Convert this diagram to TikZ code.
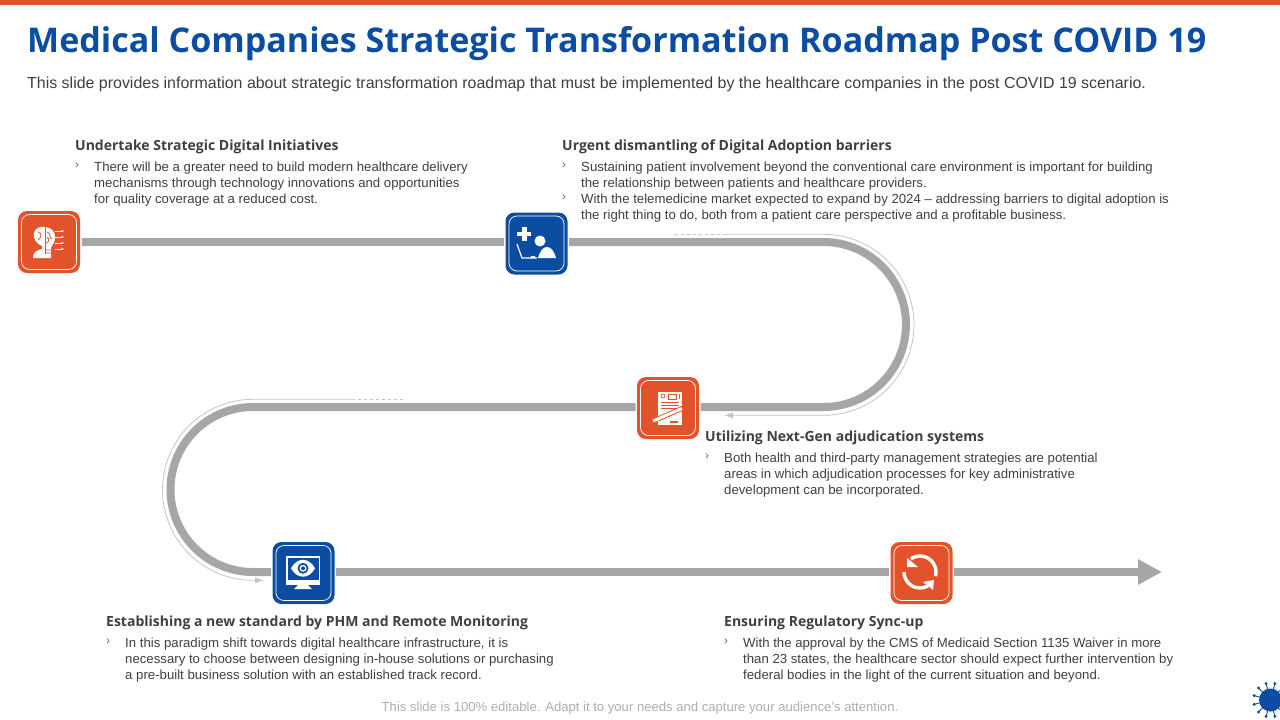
\documentclass[tikz,border=0pt]{standalone}
\usepackage{fontspec}
\setmainfont{Liberation Sans}
\newfontfamily\headfont{Open Sans}
\usetikzlibrary{arrows.meta}
\definecolor{orangered}{HTML}{E2532B}
\definecolor{deepblue}{HTML}{0B4DA2}
\definecolor{trackgray}{HTML}{A6A6A6}
\definecolor{thingray}{HTML}{C4C4C4}
\definecolor{bodygray}{HTML}{3F3F3F}
\tikzstyle{stepbox} = [draw=none,rectangle,rounded corners=9pt,minimum size=62pt,inner sep=0pt,outer sep=1.5pt]
\tikzstyle{frame} = [draw=white,line width=0.7pt,rounded corners=8pt,fill=none]
\tikzstyle{track} = [draw=trackgray,line width=8pt]
\tikzstyle{thin} = [draw=thingray,line width=0.8pt]
\tikzstyle{heading} = [anchor=west,inner sep=0pt,font=\headfont\bfseries\fontsize{14}{17}\selectfont,text=bodygray]
\tikzstyle{body} = [anchor=north west,inner sep=0pt,align=left,font=\fontsize{13.2}{16}\selectfont,text=bodygray]
\tikzstyle{bullet} = [anchor=north west,inner sep=0pt,font=\fontsize{12}{16}\selectfont,text=bodygray!80]
\tikzstyle{icon} = [fill=white,draw=none]
\begin{document}
\begin{tikzpicture}[x=1pt,y=-1pt]
    \useasboundingbox (0,0) rectangle (1280,720);
    \fill[orangered] (0,0) rectangle (1280,5);

    \node[anchor=west,inner sep=0pt,text=deepblue,font=\headfont\bfseries\fontsize{34.05}{40}\selectfont] (title) at (27,43.5) {Medical Companies Strategic Transformation Roadmap Post COVID 19};
    \node[anchor=west,inner sep=0pt,text=bodygray,font=\fontsize{15.95}{18}\selectfont] (sub) at (27,84) {This slide provides information about strategic transformation roadmap that must be implemented by the healthcare companies in the post COVID 19 scenario.};

    % the five steps along the road
    \node[stepbox,fill=orangered] (s1) at (49,242) {};
    \node[stepbox,fill=deepblue] (s2) at (536.5,243.5) {};
    \node[stepbox,fill=orangered] (s3) at (668,408) {};
    \node[stepbox,fill=deepblue] (s4) at (303.5,573) {};
    \node[stepbox,fill=orangered] (s5) at (921.5,573) {};
    \coordinate (tip) at (1162,572);

    % now link the nodes
    \draw[track] (s1.east |- 0,242) -- (s2.west |- 0,242);
    \draw[track] (s2.east |- 0,242) -- (823.5,242) arc[start angle=-90,end angle=90,radius=82.5] -- (s3.east |- 0,407);
    \draw[track] (s3.west |- 0,407) -- (253,407) arc[start angle=-90,end angle=-270,radius=82.5] -- (s4.west |- 0,572);
    \draw[track] (s4.east |- 0,572) -- (s5.west |- 0,572);
    \draw[track,-{Triangle[length=24pt,width=24pt]}] (s5.east |- 0,572) -- (tip);

    % thin guides beside the bends
    \draw[thin,dash pattern=on 3pt off 3pt] (675,234.3) -- (725,234.3);
    \draw[thin,-{Latex[length=9pt,width=6pt]}] (725,234.3) -- (823.5,234.3) arc[start angle=-90,end angle=90,radius=90.5] -- (724,415.3);
    \draw[thin,dash pattern=on 3pt off 3pt] (403,399.3) -- (353,399.3);
    \draw[thin,-{Latex[length=9pt,width=6pt]}] (353,399.3) -- (253,399.3) arc[start angle=-90,end angle=-270,radius=90.5] -- (264,580.3);

    % white inner frames
    \foreach \s in {s1,s2,s3,s4,s5} {
      \draw[frame] ([shift={(-27.5,-27.5)}]\s.center) rectangle ([shift={(27.5,27.5)}]\s.center);
    }

    % icon 1: head and bulb
    \fill[icon] (33,258) .. controls (33,252) and (37,250) .. (42,249) -- (42,246) .. controls (36,244) and (33,238) .. (34,233) .. controls (35,228) and (40,226) .. (45,227) .. controls (51,227) and (56,232) .. (55,238) .. controls (55,242) and (52,245) .. (51,248) -- (51,258) -- cycle;
    \draw[orangered,line width=0.8pt] (45,227) -- (45,254);
    \draw[orangered,line width=0.8pt] (47,232) .. controls (52,233) and (48,237) .. (52,239) (46,243) .. controls (50,242) and (49,238) .. (47,237) (38,232) .. controls (42,233) and (42,237) .. (38,240) (46,250) -- (51,250) (46,253) -- (51,253);
    \foreach \y in {231,237,243,249} {
      \draw[white,line width=0.8pt,-{Latex[length=2.5pt,width=2.5pt]}] (55,\y) -- (64,\y);
    }

    % icon 2: plus and person
    \fill[icon] (522,227) rectangle (526.5,241);
    \fill[icon] (517,231.8) rectangle (531,236.3);
    \fill[icon] (540,241) circle[radius=5.5];
    \fill[icon] (538,258) .. controls (540,251) and (543,247) .. (547,247) .. controls (551,247) and (554,251) .. (556,258) -- cycle;
    \draw[white,line width=1.2pt] (517,244) -- (522,258) -- (537,258);
    \fill[icon] (530,258) .. controls (531,255) and (535,255) .. (536,258) -- cycle;

    % icon 3: sheet and pen
    \fill[icon] (658,392) rectangle (682,425);
    \draw[orangered,line width=0.7pt] (663,396) circle[radius=2];
    \draw[orangered,line width=0.7pt] (668,394) rectangle (676,399);
    \fill[orangered] (678.5,394) rectangle (680,399);
    \draw[orangered,line width=0.7pt] (661,402) -- (679,402) (661,405) -- (679,405) (661,408) -- (676,408);
    \draw[orangered,line width=5pt] (658,419) -- (683,408);
    \draw[white,line width=3pt] (653,421) -- (682,408.5);
    \fill[orangered] (670,421) rectangle (678,423);

    % icon 4: monitor and eye
    \fill[icon] (286,556) rectangle (320,585);
    \fill[deepblue] (287.5,557.5) rectangle (318.5,580);
    \fill[icon] (298,585) -- (308,585) -- (312,589) -- (294,589) -- cycle;
    \fill[icon] (291,568.3) .. controls (297,557) and (309,557) .. (315,568.3) .. controls (309,579.5) and (297,579.5) .. (291,568.3) -- cycle;
    \fill[deepblue] (303,568.3) circle[radius=5.5];
    \fill[white] (303,568.3) circle[radius=3.5];
    \fill[deepblue] (303,568.3) circle[radius=2];

    % icon 5: two turning arrows
    \draw[white,line width=3.4pt] (910.8,558.9) arc[start angle=-125,end angle=15,radius=16];
    \draw[white,line width=3.4pt] (904,572) arc[start angle=180,end angle=60,radius=16];
    \fill[icon] (907,558) -- (907,567) -- (918,567) -- cycle;
    \fill[icon] (923,582) -- (934,580) -- (933,590) -- cycle;

    % virus at the corner
    \fill[deepblue] (1270.5,700) circle[radius=11.5];
    \foreach \a in {15,45,...,345} {
      \draw[deepblue,line width=0.9pt] (1270.5,700) -- ++(\a:17);
      \fill[deepblue] (1270.5,700) ++(\a:17) circle[radius=1.6];
    }

    % texts
    \node[heading] (h1) at (75,147) {Undertake Strategic Digital Initiatives};
    \node[bullet] (b1) at (75,163) {›};
    \node[body] (t1) at (94,161.5) {There will be a greater need to build modern healthcare delivery\\mechanisms through technology innovations and opportunities\\for quality coverage at a reduced cost.};

    \node[heading] (h2) at (562,147) {Urgent dismantling of Digital Adoption barriers};
    \node[bullet] (b2) at (562,163) {›};
    \node[bullet] (b2a) at (562,195) {›};
    \node[body] (t2) at (581,161.5) {Sustaining patient involvement beyond the conventional care environment is important for building\\the relationship between patients and healthcare providers.\\With the telemedicine market expected to expand by 2024 – addressing barriers to digital adoption is\\the right thing to do, both from a patient care perspective and a profitable business.};

    \node[heading] (h3) at (705,438) {Utilizing Next-Gen adjudication systems};
    \node[bullet] (b3) at (705,454) {›};
    \node[body] (t3) at (724,452.5) {Both health and third-party management strategies are potential\\areas in which adjudication processes for key administrative\\development can be incorporated.};

    \node[heading] (h4) at (106,623) {Establishing a new standard by PHM and Remote Monitoring};
    \node[bullet] (b4) at (106,639) {›};
    \node[body] (t4) at (125,637.5) {In this paradigm shift towards digital healthcare infrastructure, it is\\necessary to choose between designing in-house solutions or purchasing\\a pre-built business solution with an established track record.};

    \node[heading] (h5) at (724,623) {Ensuring Regulatory Sync-up};
    \node[bullet] (b5) at (724,639) {›};
    \node[body] (t5) at (743,637.5) {With the approval by the CMS of Medicaid Section 1135 Waiver in more\\than 23 states, the healthcare sector should expect further intervention by\\federal bodies in the light of the current situation and beyond.};

    \node[inner sep=0pt,text=black!32,font=\fontsize{13.1}{14}\selectfont] (foot) at (640,708) {This slide is 100\% editable. Adapt it to your needs and capture your audience's attention.};
\end{tikzpicture}
\end{document}
